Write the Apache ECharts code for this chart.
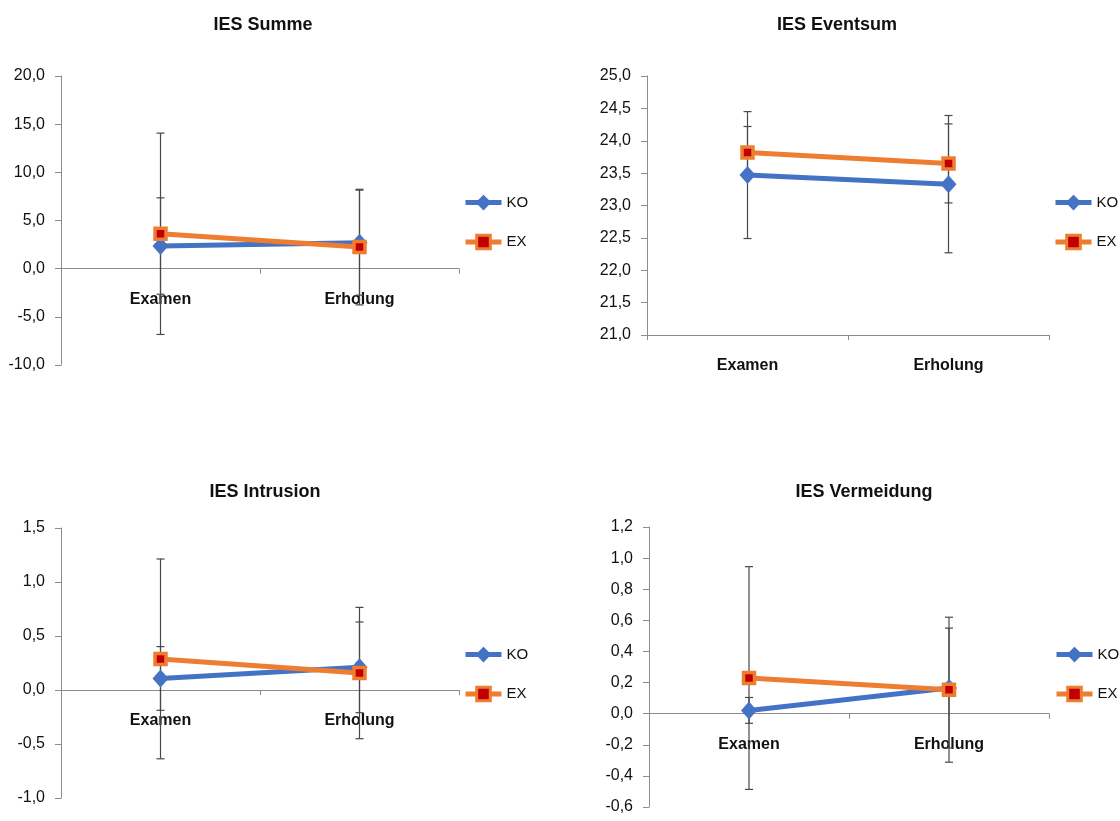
<!DOCTYPE html>
<html><head><meta charset="utf-8">
<script src="https://cdn.jsdelivr.net/npm/echarts@6/dist/echarts.min.js"></script>
<style>html,body{margin:0;padding:0;background:#fff}#c{width:1120px;height:821px}</style>
</head><body><div id="c"></div>
<script>
// ---------- data ----------
const categories = ['Examen', 'Erholung'];
const seriesNames = ['KO', 'EX'];
const titles = ['IES Summe', 'IES Eventsum', 'IES Intrusion', 'IES Vermeidung'];

// IES Summe
const summeKO = [2.35, 2.70];
const summeKOErr = [5.00, 5.45];
const summeEX = [3.62, 2.24];
const summeEXErr = [10.45, 6.00];
const summeTicks = [-10, 20, 5];      // min, max, interval

// IES Eventsum
const eventKO = [23.47, 23.33];
const eventKOErr = [0.98, 1.06];
const eventEX = [23.82, 23.65];
const eventEXErr = [0.40, 0.61];
const eventTicks = [21, 25, 0.5];

// IES Intrusion
const intrKO = [0.107, 0.21];
const intrKOErr = [0.295, 0.42];
const intrEX = [0.288, 0.157];
const intrEXErr = [0.925, 0.608];
const intrTicks = [-1, 1.5, 0.5];

// IES Vermeidung
const vermKO = [0.021, 0.165];
const vermKOErr = [0.083, 0.385];
const vermEX = [0.229, 0.154];
const vermEXErr = [0.716, 0.466];
const vermTicks = [-0.6, 1.2, 0.2];

// ---------- layout / style ----------
const FONT = "'Liberation Sans', Arial, sans-serif";
const panels = [
  {title: titles[0], ko: summeKO, koE: summeKOErr, ex: summeEX, exE: summeEXErr, ticks: summeTicks,
   grid: {left: 61, top: 76, width: 398, height: 289}, titlePos: [258, 11], legendPos: [463, 195]},
  {title: titles[1], ko: eventKO, koE: eventKOErr, ex: eventEX, exE: eventEXErr, ticks: eventTicks,
   grid: {left: 647, top: 76, width: 402, height: 259}, titlePos: [832, 11], legendPos: [1053, 195]},
  {title: titles[2], ko: intrKO, koE: intrKOErr, ex: intrEX, exE: intrEXErr, ticks: intrTicks,
   grid: {left: 61, top: 528, width: 398, height: 270}, titlePos: [260, 478], legendPos: [463, 647]},
  {title: titles[3], ko: vermKO, koE: vermKOErr, ex: vermEX, exE: vermEXErr, ticks: vermTicks,
   grid: {left: 649, top: 527, width: 400, height: 280}, titlePos: [859, 478], legendPos: [1054, 647]}
];
const BLUE = '#4472C4', ORANGE = '#ED7D31', DARKRED = '#C00000', AXIS = '#8c8c8c', ERR = '#484848';

function fmt(v) {
  const r = Math.round(v * 10) / 10;
  return r.toFixed(1).replace('.', ',');
}

function errRender(params, api) {
  const x = api.value(0);
  const lo = api.coord([x, api.value(1)]);
  const hi = api.coord([x, api.value(2)]);
  const w = 4;
  const style = {stroke: ERR, lineWidth: 1.2, fill: null};
  return {type: 'group', children: [
    {type: 'line', shape: {x1: lo[0], y1: lo[1], x2: hi[0], y2: hi[1]}, style: style},
    {type: 'line', shape: {x1: lo[0] - w, y1: lo[1], x2: lo[0] + w, y2: lo[1]}, style: style},
    {type: 'line', shape: {x1: hi[0] - w, y1: hi[1], x2: hi[0] + w, y2: hi[1]}, style: style}
  ]};
}

const option = {
  animation: false,
  backgroundColor: '#fff',
  title: [], grid: [], xAxis: [], yAxis: [], legend: [], series: []
};

panels.forEach(function (p, i) {
  const mn = p.ticks[0], mx = p.ticks[1];
  // place the category axis on the zero line when zero is inside the value range
  const zeroOffset = (mn < 0 && mx > 0) ? -p.grid.height * (0 - mn) / (mx - mn) : 0;
  option.title.push({
    text: p.title, left: p.titlePos[0], top: p.titlePos[1], textAlign: 'center',
    textStyle: {fontFamily: FONT, fontSize: 18, fontWeight: 'bold', color: '#111'}
  });
  option.grid.push(Object.assign({containLabel: false}, p.grid));
  option.xAxis.push({
    type: 'category', gridIndex: i, data: categories, boundaryGap: true,
    position: 'bottom', offset: zeroOffset,
    axisLine: {onZero: false, lineStyle: {color: AXIS, width: 1}},
    axisTick: {show: true, length: 5, lineStyle: {color: AXIS}},
    axisLabel: {fontFamily: FONT, fontSize: 16, fontWeight: 'bold', color: '#111', margin: 23},
    splitLine: {show: false}
  });
  option.yAxis.push({
    type: 'value', gridIndex: i, min: mn, max: mx, interval: p.ticks[2],
    axisLine: {show: true, lineStyle: {color: AXIS, width: 1}},
    axisTick: {show: true, length: 6, lineStyle: {color: AXIS}},
    axisLabel: {fontFamily: FONT, fontSize: 16, color: '#111', margin: 16, formatter: fmt},
    splitLine: {show: false}
  });
  option.legend.push({
    orient: 'vertical', left: p.legendPos[0], top: p.legendPos[1], padding: 0,
    itemWidth: 36, itemHeight: 17, itemGap: 23.6,
    lineStyle: {width: 5},
    data: [
      {name: seriesNames[0], itemStyle: {borderWidth: 1.5, borderColor: BLUE}},
      {name: seriesNames[1], itemStyle: {borderWidth: 3, borderColor: ORANGE, color: DARKRED}}
    ],
    textStyle: {fontFamily: FONT, fontSize: 15, color: '#111'}
  });
  const koErrData = categories.map(function (c, k) { return [k, p.ko[k] - p.koE[k], p.ko[k] + p.koE[k]]; });
  const exErrData = categories.map(function (c, k) { return [k, p.ex[k] - p.exE[k], p.ex[k] + p.exE[k]]; });
  option.series.push({
    type: 'custom', xAxisIndex: i, yAxisIndex: i, renderItem: errRender,
    data: koErrData, encode: {x: 0, y: [1, 2]}, z: 1, silent: true
  });
  option.series.push({
    type: 'custom', xAxisIndex: i, yAxisIndex: i, renderItem: errRender,
    data: exErrData, encode: {x: 0, y: [1, 2]}, z: 1, silent: true
  });
  option.series.push({
    name: seriesNames[0], type: 'line', xAxisIndex: i, yAxisIndex: i, data: p.ko,
    symbol: 'diamond', symbolSize: [16, 18],
    lineStyle: {color: BLUE, width: 5},
    itemStyle: {color: BLUE, borderColor: BLUE, borderWidth: 0},
    z: 3
  });
  option.series.push({
    name: seriesNames[1], type: 'line', xAxisIndex: i, yAxisIndex: i, data: p.ex,
    symbol: 'rect', symbolSize: 11,
    lineStyle: {color: ORANGE, width: 5},
    itemStyle: {color: DARKRED, borderColor: ORANGE, borderWidth: 3.5},
    z: 4
  });
});

const chart = echarts.init(document.getElementById('c'));
chart.setOption(option);
</script>
</body></html>
